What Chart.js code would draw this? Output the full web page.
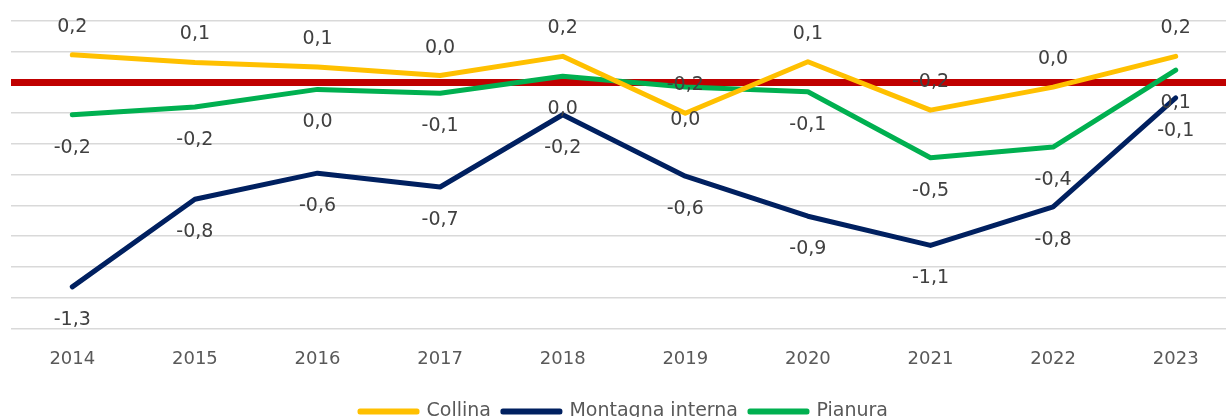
<!DOCTYPE html>
<html>
<head>
<meta charset="utf-8">
<script src="https://cdn.jsdelivr.net/npm/chart.js@4"></script>
<style>
  html, body { margin: 0; padding: 0; background: #fff; overflow: hidden; }
  #wrap { position: absolute; left: 0; top: 0; width: 1250px; height: 417px; }
</style>
</head>
<body>
<div id="wrap"><canvas id="myChart"></canvas></div>
<script>
const years = ["2014", "2015", "2016", "2017", "2018", "2019", "2020", "2021", "2022", "2023"];
const collina = [0.18, 0.13, 0.10, 0.045, 0.17, -0.20, 0.135, -0.18, -0.03, 0.17];
const montagna = [-1.33, -0.76, -0.59, -0.68, -0.21, -0.61, -0.87, -1.06, -0.81, -0.10];
const pianura = [-0.21, -0.16, -0.045, -0.07, 0.04, -0.03, -0.06, -0.49, -0.42, 0.08];

const fontName = "DejaVu Sans";

function fmt(v) {
  let r = Math.round(v * 10) / 10;
  if (r === 0) r = 0;
  return r.toFixed(1).replace(".", ",");
}

// etichette dei valori (sopra per Collina, sotto per le altre)
const labelOffsets = [-28, 33, 33];
const valueLabels = {
  id: "valueLabels",
  afterDatasetsDraw(chart) {
    const ctx = chart.ctx;
    ctx.save();
    ctx.font = "19px '" + fontName + "'";
    ctx.fillStyle = "#404040";
    ctx.textAlign = "center";
    ctx.textBaseline = "middle";
    chart.data.datasets.forEach((ds, i) => {
      const meta = chart.getDatasetMeta(i);
      meta.data.forEach((pt, j) => {
        ctx.fillText(fmt(ds.data[j]), pt.x, pt.y + labelOffsets[i]);
      });
    });
    ctx.restore();
  },
};

const ctx = document.getElementById("myChart");
new Chart(ctx, {
  type: "line",
  data: {
    labels: years,
    datasets: [
      { label: "Collina", data: collina, borderColor: "#FFC000", backgroundColor: "#FFC000" },
      { label: "Montagna interna", data: montagna, borderColor: "#002060", backgroundColor: "#002060" },
      { label: "Pianura", data: pianura, borderColor: "#00B050", backgroundColor: "#00B050" },
    ],
  },
  options: {
    responsive: true,
    maintainAspectRatio: false,
    animation: false,
    devicePixelRatio: 1,
    elements: {
      line: { borderWidth: 5, tension: 0, borderCapStyle: "round", borderJoinStyle: "round" },
      point: { radius: 0, hoverRadius: 0 },
    },
    layout: { padding: { left: 11, right: 13, top: 21, bottom: -14 } },
    scales: {
      x: {
        offset: true,
        grid: { display: false, drawTicks: false },
        border: { display: false },
        ticks: { color: "#595959", font: { family: fontName, size: 18 }, padding: 20 },
      },
      y: {
        min: -1.6,
        max: 0.4,
        ticks: { display: false, stepSize: 0.2 },
        border: { display: false },
        grid: {
          drawTicks: false,
          color: (c) => (Math.abs(c.tick.value) < 1e-9 ? "#C00000" : "#D9D9D9"),
          lineWidth: (c) => (Math.abs(c.tick.value) < 1e-9 ? 7 : 1.5),
        },
      },
    },
    plugins: {
      legend: {
        position: "bottom",
        labels: {
          color: "#595959",
          font: { family: fontName, size: 19 },
          boxWidth: 57,
          boxHeight: 1,
          padding: 12,
        },
      },
      tooltip: { enabled: false },
    },
  },
  plugins: [valueLabels],
});
</script>
</body>
</html>
